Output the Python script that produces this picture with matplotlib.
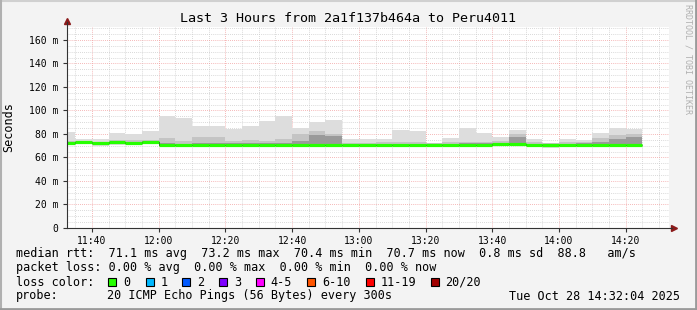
import numpy as np
import matplotlib
matplotlib.use("Agg")
from matplotlib import pyplot as plt
from matplotlib.patches import Rectangle

W, H = 697, 310
MONO = "DejaVu Sans Mono"

# bar start times, minutes after 11:00 (5 min steps, 11:30 .. 14:20)
starts = np.arange(30, 205, 5)

# median rtt per step (ms)
median = [72.6, 73.0, 72.0, 72.8, 72.3, 73.2, 70.9, 70.9, 70.9, 71.0,
          71.0, 71.0, 71.0, 71.0, 71.0, 71.0, 71.0, 70.4, 70.5, 71.0,
          70.5, 70.5, 70.8, 71.0, 71.0, 71.0, 71.6, 71.2, 71.0, 70.9,
          71.0, 71.0, 71.0, 71.0, 70.7]
# smoke: outer band (light)
smoke_hi = [81.5, 75.7, 75.5, 80.8, 80.3, 82.5, 95.0, 94.0, 86.8, 86.5,
            84.5, 86.8, 90.8, 95.3, 85.1, 90.2, 91.9, 75.5, 75.5, 76.0,
            83.4, 82.5, 72.5, 76.9, 85.1, 80.6, 77.2, 83.4, 75.5, 72.5,
            75.7, 74.9, 80.6, 84.8, 84.3]
smoke_lo = [71.0, 71.5, 70.0, 70.5, 70.5, 71.5, 69.5, 69.5, 69.5, 69.5,
            69.5, 69.5, 69.5, 69.5, 69.5, 69.0, 69.0, 68.8, 69.0, 69.5,
            69.0, 69.0, 69.0, 69.5, 69.5, 69.5, 70.0, 70.0, 69.5, 67.7,
            69.5, 69.5, 69.5, 69.5, 69.0]
# middle band
mid_hi = [74.0, 74.0, 73.5, 74.5, 75.0, 74.5, 76.5, 74.0, 77.0, 77.0,
          74.0, 74.5, 74.0, 75.5, 79.7, 82.5, 80.0, 72.0, 72.5, 73.0,
          73.0, 73.0, 72.0, 73.0, 73.5, 73.0, 74.0, 80.0, 73.0, 72.0,
          73.0, 73.5, 76.5, 79.0, 80.0]
# inner band (dark)
dark_hi = [73.0, 73.5, 72.5, 73.5, 73.0, 73.8, 72.0, 71.8, 72.5, 72.5,
           72.0, 72.0, 72.0, 72.5, 74.0, 79.0, 78.0, 71.0, 71.2, 71.6,
           71.2, 71.2, 71.3, 71.8, 72.0, 72.0, 72.5, 77.0, 71.8, 71.3,
           71.6, 72.0, 73.0, 76.0, 77.0]

ticks = [40, 60, 80, 100, 120, 140, 160, 180, 200]
tick_labels = ["11:40", "12:00", "12:20", "12:40", "13:00", "13:20", "13:40", "14:00", "14:20"]
yticks = [0, 20, 40, 60, 80, 100, 120, 140, 160]
ytick_labels = ["0", "20 m", "40 m", "60 m", "80 m", "100 m", "120 m", "140 m", "160 m"]

loss_labels = ["0", "1", "2", "3", "4-5", "6-10", "11-19", "20/20"]
loss_colors = ["#26ff00", "#00b8ff", "#0059ff", "#7e00ff", "#ff00ff", "#ff5500", "#ff0000", "#a10000"]

fig = plt.figure(figsize=(W / 100, H / 100), dpi=100, facecolor="#f3f3f3")
ax = fig.add_axes([67 / W, 1 - 228 / H, (669 - 67) / W, (228 - 27) / H])
ax.set_facecolor("white")

edges = np.append(starts, starts[-1] + 5)
lo = np.array(smoke_lo)
ax.stairs(smoke_hi, edges, baseline=lo, fill=True, color="#dddddd", lw=0)
ax.stairs(mid_hi, edges, baseline=lo + 0.8, fill=True, color="#c4c4c4", lw=0)
ax.stairs(dark_hi, edges, baseline=np.array(median) - 0.6, fill=True, color="#9a9a9a", lw=0)

# median: thin dark step + green horizontal segments
ax.stairs(median, edges, baseline=None, color="#202020", lw=0.7)
ax.hlines(median, edges[:-1], edges[1:], color=loss_colors[0], lw=2.3)

# grid
for m in range(35, 215, 5):
    if m % 20 == 0:
        ax.axvline(m, color="#f2a0a0", lw=0.6, ls=(0, (1, 1.5)), zorder=0.5)
    else:
        ax.axvline(m, color="#cccccc", lw=0.6, ls=(0, (1, 1.5)), zorder=0.5)
for v in range(5, 175, 5):
    if v % 20 == 0:
        ax.axhline(v, color="#f2a0a0", lw=0.6, ls=(0, (1, 1.5)), zorder=0.5)
    else:
        ax.axhline(v, color="#cccccc", lw=0.6, ls=(0, (1, 1.5)), zorder=0.5)
ax.set_axisbelow(True)

ax.set_xlim(32.5, 213)
ax.set_ylim(0, 171)
ax.set_xticks(ticks)
ax.set_xticklabels(tick_labels, family=MONO, fontsize=7)
ax.set_yticks(yticks)
ax.set_yticklabels(ytick_labels, family=MONO, fontsize=7)
ax.tick_params(length=3, width=0.8, color="#333333", pad=3)
ax.tick_params(axis="x", length=3, pad=3)

for s in ["top", "right"]:
    ax.spines[s].set_visible(False)
ax.spines["left"].set_color("#333333")
ax.spines["bottom"].set_color("#333333")
ax.spines["left"].set_bounds(0, 175)
ax.spines["bottom"].set_bounds(32.5, 214)
ax.plot([32.5], [176], marker="^", color="#8b1a1a", ms=4, clip_on=False)
ax.plot([214.5], [0], marker=">", color="#8b1a1a", ms=4, clip_on=False)

ax.set_ylabel("Seconds", family=MONO, fontsize=8.5)
ax.yaxis.set_label_coords(-(67 - 15) / 602, 0.5)

fig.text(348 / W, 1 - 19 / H, "Last 3 Hours from 2a1f137b464a to Peru4011",
         ha="center", va="center", family=MONO, fontsize=9.6)
fig.text(688 / W, 1 - 4 / H, "RRDTOOL / TOBI OETIKER", rotation=270,
         ha="center", va="top", family=MONO, fontsize=6, color="#b0b0b0")

fs = 8.5
fig.text(16 / W, 1 - 254 / H,
         "median rtt:  71.1 ms avg  73.2 ms max  70.4 ms min  70.7 ms now  0.8 ms sd  88.8   am/s",
         va="center", family=MONO, fontsize=fs)
fig.text(16 / W, 1 - 268 / H,
         "packet loss: 0.00 % avg  0.00 % max  0.00 % min  0.00 % now",
         va="center", family=MONO, fontsize=fs)
fig.text(16 / W, 1 - 282 / H, "loss color:", va="center", family=MONO, fontsize=fs)
fig.text(16 / W, 1 - 296 / H, "probe:", va="center", family=MONO, fontsize=fs)
fig.text(107 / W, 1 - 296 / H, "20 ICMP Echo Pings (56 Bytes) every 300s",
         va="center", family=MONO, fontsize=fs)
fig.text(680 / W, 1 - 296 / H, "Tue Oct 28 14:32:04 2025",
         va="center", ha="right", family=MONO, fontsize=fs)

box_x = [108, 145.5, 182, 219, 255.5, 307, 365.5, 430.5]
for bx, lab, col in zip(box_x, loss_labels, loss_colors):
    fig.add_artist(Rectangle((bx / W, 1 - 286 / H), 8 / W, 8 / H, transform=fig.transFigure,
                             facecolor=col, edgecolor="black", lw=0.8))
    fig.text((bx + 15) / W, 1 - 282 / H, lab, va="center", family=MONO, fontsize=fs)

# frame
fig.add_artist(plt.Line2D([0, 1], [1 - 1 / H, 1 - 1 / H], transform=fig.transFigure, color="#d0d0d0", lw=1.5))
fig.add_artist(plt.Line2D([1 / W, 1 / W], [0, 1], transform=fig.transFigure, color="#b0b0b0", lw=1.5))
fig.add_artist(plt.Line2D([0, 1], [1.5 / H, 1.5 / H], transform=fig.transFigure, color="#9a9a9a", lw=2))
fig.add_artist(plt.Line2D([1 - 1.5 / W, 1 - 1.5 / W], [0, 1], transform=fig.transFigure, color="#9a9a9a", lw=2))

fig.savefig("out.png", dpi=100, facecolor=fig.get_facecolor())
